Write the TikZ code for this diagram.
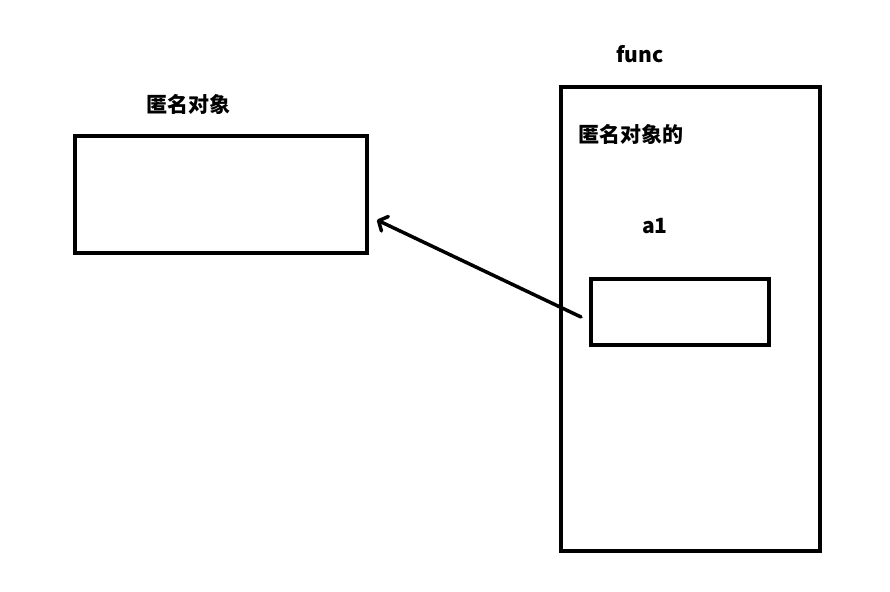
\documentclass[tikz,border=0pt]{standalone}
\usepackage{fontspec}
\newfontfamily\cjk{Noto Sans CJK SC}
\usetikzlibrary{arrows.meta}
\begin{document}
\begin{tikzpicture}[x=1pt,y=-1pt,
  box/.style={draw=black,line width=3.5pt,inner sep=0pt,minimum width=0pt},
  lbl/.style={font=\cjk\bfseries\fontsize{21}{24}\selectfont,inner sep=0pt}]
\useasboundingbox (0,0) rectangle (890,591);
\node[box,minimum width=292pt,minimum height=117pt] (obj) at (221,194.5) {};
\node[box,minimum width=259pt,minimum height=464pt] (func) at (690.5,319) {};
\node[box,minimum width=178pt,minimum height=66pt] (a1box) at (680,312) {};
\node[lbl] (t1) at (188,104) {匿名对象};
\node[lbl] (t2) at (640,54) {func};
\node[lbl,anchor=west] (t3) at (578,134) {匿名对象的};
\node[lbl] (t4) at (655,226) {a1};
\coordinate (s) at (581,317);
\coordinate (e) at (377,220);
\draw[line width=3.5pt,line cap=round,-{Straight Barb[length=7pt,width=16pt,line width=3.5pt,round]}] (s) -- (e);
\end{tikzpicture}
\end{document}
